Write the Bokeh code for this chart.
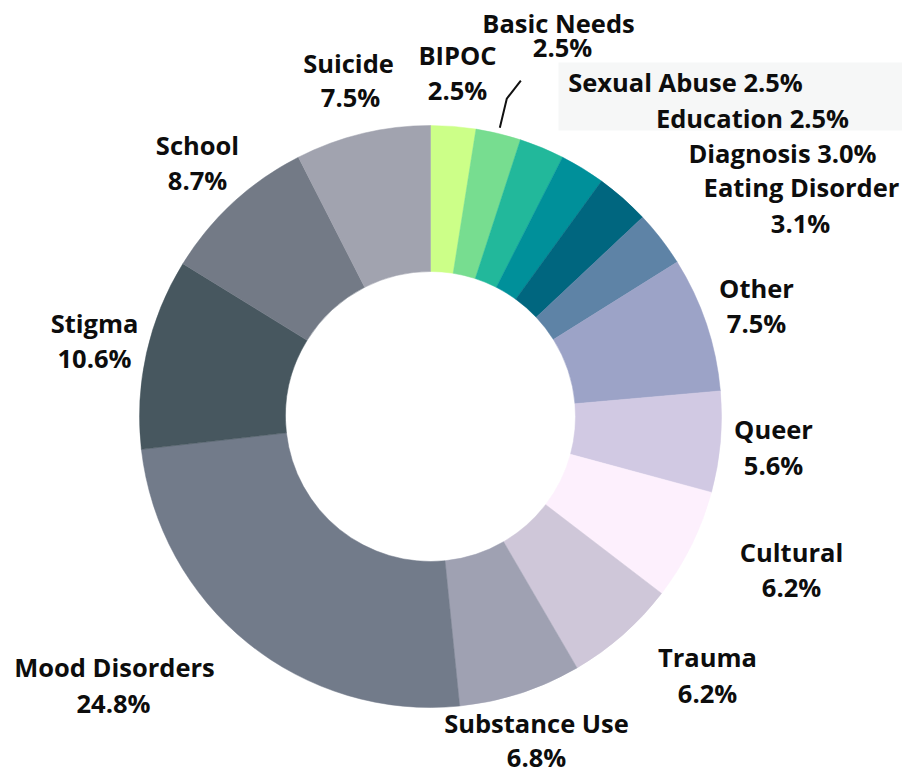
import numpy as np
from bokeh.plotting import figure
from bokeh.models import Range1d, ColumnDataSource, BoxAnnotation
from bokeh.core.properties import value
from bokeh.embed import file_html
from bokeh.resources import INLINE

# ---------------- data ----------------
categories = ["BIPOC", "Basic Needs", "Sexual Abuse", "Education", "Diagnosis",
              "Eating Disorder", "Other", "Queer", "Cultural", "Trauma",
              "Substance Use", "Mood Disorders", "Stigma", "School", "Suicide"]
percents = [2.5, 2.5, 2.5, 2.5, 3.0, 3.1, 7.5, 5.6, 6.2, 6.2, 6.8, 24.8, 10.6, 8.7, 7.5]
colors = ["#ccff88", "#77dd90", "#22b89b", "#00909a", "#00667f",
          "#5e83a6", "#9ca3c7", "#d1c9e3", "#fdf0fd", "#cfc7d9",
          "#9fa1b2", "#727b8a", "#47575f", "#737a86", "#a1a3af"]

# ---------------- layout (pixels, y measured from top) ----------------
W, H = 902, 774
CX, CY = 430, 416
R_OUT, R_IN = 291, 145
FONT = value("Open Sans")
FS = "25.5px"
BASELINE_FIX = 11  # renderer places alphabetic baseline lower than requested

# label lines: (x, baseline y) per line; single-line labels have one entry
label_layout = {
    "BIPOC": [(457, 65), (457, 100)],
    "Basic Needs": [(558, 33), (562, 57)],
    "Sexual Abuse": [(685, 92)],
    "Education": [(752, 128)],
    "Diagnosis": [(782, 163)],
    "Eating Disorder": [(801, 197), (800, 233)],
    "Other": [(756, 298), (756, 333)],
    "Queer": [(773, 439), (773, 475)],
    "Cultural": [(791, 562), (791, 597)],
    "Trauma": [(707, 667), (707, 703)],
    "Substance Use": [(536, 733), (536, 767)],
    "Mood Disorders": [(114, 677), (113, 713)],
    "Stigma": [(94, 333), (94, 368)],
    "School": [(197, 155), (197, 190)],
    "Suicide": [(348, 73), (350, 107)],
}

def fy(ypix):
    return H - ypix

vals = np.array(percents, dtype=float)
frac = vals / vals.sum()
cum = np.concatenate([[0.0], np.cumsum(frac)])
start_angle = np.pi / 2 - 2 * np.pi * cum[1:]
end_angle = np.pi / 2 - 2 * np.pi * cum[:-1]
mid = (cum[1:] + cum[:-1]) / 2

src = ColumnDataSource(dict(
    x=[CX] * len(categories), y=[fy(CY)] * len(categories),
    start=start_angle, end=end_angle, color=colors, cat=categories))

p = figure(width=W, height=H, output_backend="svg", toolbar_location=None,
           x_range=Range1d(0, W), y_range=Range1d(0, H), min_border=0)
p.axis.visible = False
p.grid.visible = False
p.outline_line_color = None
p.background_fill_color = "white"
p.border_fill_color = "white"

# light background box behind some right-side labels
p.add_layout(BoxAnnotation(left=558, right=W, bottom=fy(130), top=fy(62),
                           fill_color="#f6f7f7", fill_alpha=1.0, line_color=None,
                           level="underlay"))

p.annular_wedge(x="x", y="y", inner_radius=R_IN, outer_radius=R_OUT,
                start_angle="start", end_angle="end", direction="anticlock",
                fill_color="color", line_color="color", line_width=0.5, source=src)

# text labels
tx, ty, tt = [], [], []
for cat, pct in zip(categories, percents):
    lines = label_layout[cat]
    pct_s = f"{pct:.1f}%"
    if len(lines) == 1:
        texts = [f"{cat} {pct_s}"]
    else:
        texts = [cat, pct_s]
    for (lx, ly), t in zip(lines, texts):
        tx.append(lx)
        ty.append(fy(ly - BASELINE_FIX))
        tt.append(t)

p.text(x=tx, y=ty, text=tt, text_font=FONT, text_font_style="bold",
       text_font_size=FS, text_align="center", text_baseline="alphabetic",
       text_color="#0d0d0d")

# leader line for Basic Needs, derived from its slice mid-angle
i = categories.index("Basic Needs")
theta = 2 * np.pi * mid[i]
sx, sy = CX + (R_OUT + 6) * np.sin(theta), CY - (R_OUT + 6) * np.cos(theta)
ex, ey = CX + (R_OUT + 36) * np.sin(theta), CY - (R_OUT + 36) * np.cos(theta)
p.line(x=[sx, ex, ex + 14], y=[fy(sy), fy(ey), fy(ey - 18)],
       line_color="#111111", line_width=2)

open("out.html", "w").write(file_html(p, INLINE))
